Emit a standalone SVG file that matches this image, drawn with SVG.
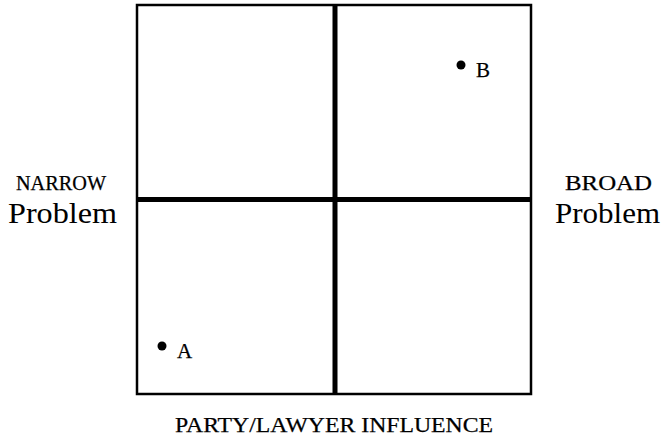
<svg xmlns="http://www.w3.org/2000/svg" width="662" height="439" viewBox="0 0 662 439">
<style>
text{font-family:"Liberation Serif","Times New Roman",serif;fill:#000;stroke:#000;stroke-width:0.25}
.sm{font-size:20px}
.lg{font-size:30px;stroke:none}
.pt{font-size:21px}
</style>
<rect width="662" height="439" fill="#fff"/>
<g id="grid">
<rect x="137" y="5" width="394" height="389" fill="none" stroke="#000" stroke-width="2.5"/>
<line x1="335" y1="5" x2="335" y2="394" stroke="#000" stroke-width="5"/>
<line x1="137" y1="199.5" x2="531" y2="199.5" stroke="#000" stroke-width="5"/>
</g>
<g id="pointA"><circle cx="162" cy="346" r="4.5"/><text x="177" y="358" class="pt">A</text></g>
<g id="pointB"><circle cx="461" cy="65" r="4.5"/><text x="476" y="77" class="pt">B</text></g>
<g id="left"><text x="16" y="190" class="sm" textLength="90" lengthAdjust="spacingAndGlyphs">NARROW</text><text x="8" y="223" class="lg" textLength="109" lengthAdjust="spacingAndGlyphs">Problem</text></g>
<g id="right"><text x="565" y="190" class="sm" textLength="87" lengthAdjust="spacingAndGlyphs">BROAD</text><text x="555" y="223" class="lg" textLength="105" lengthAdjust="spacingAndGlyphs">Problem</text></g>
<g id="xlabel"><text x="175" y="432" class="pt" textLength="318" lengthAdjust="spacingAndGlyphs">PARTY/LAWYER INFLUENCE</text></g>
</svg>
